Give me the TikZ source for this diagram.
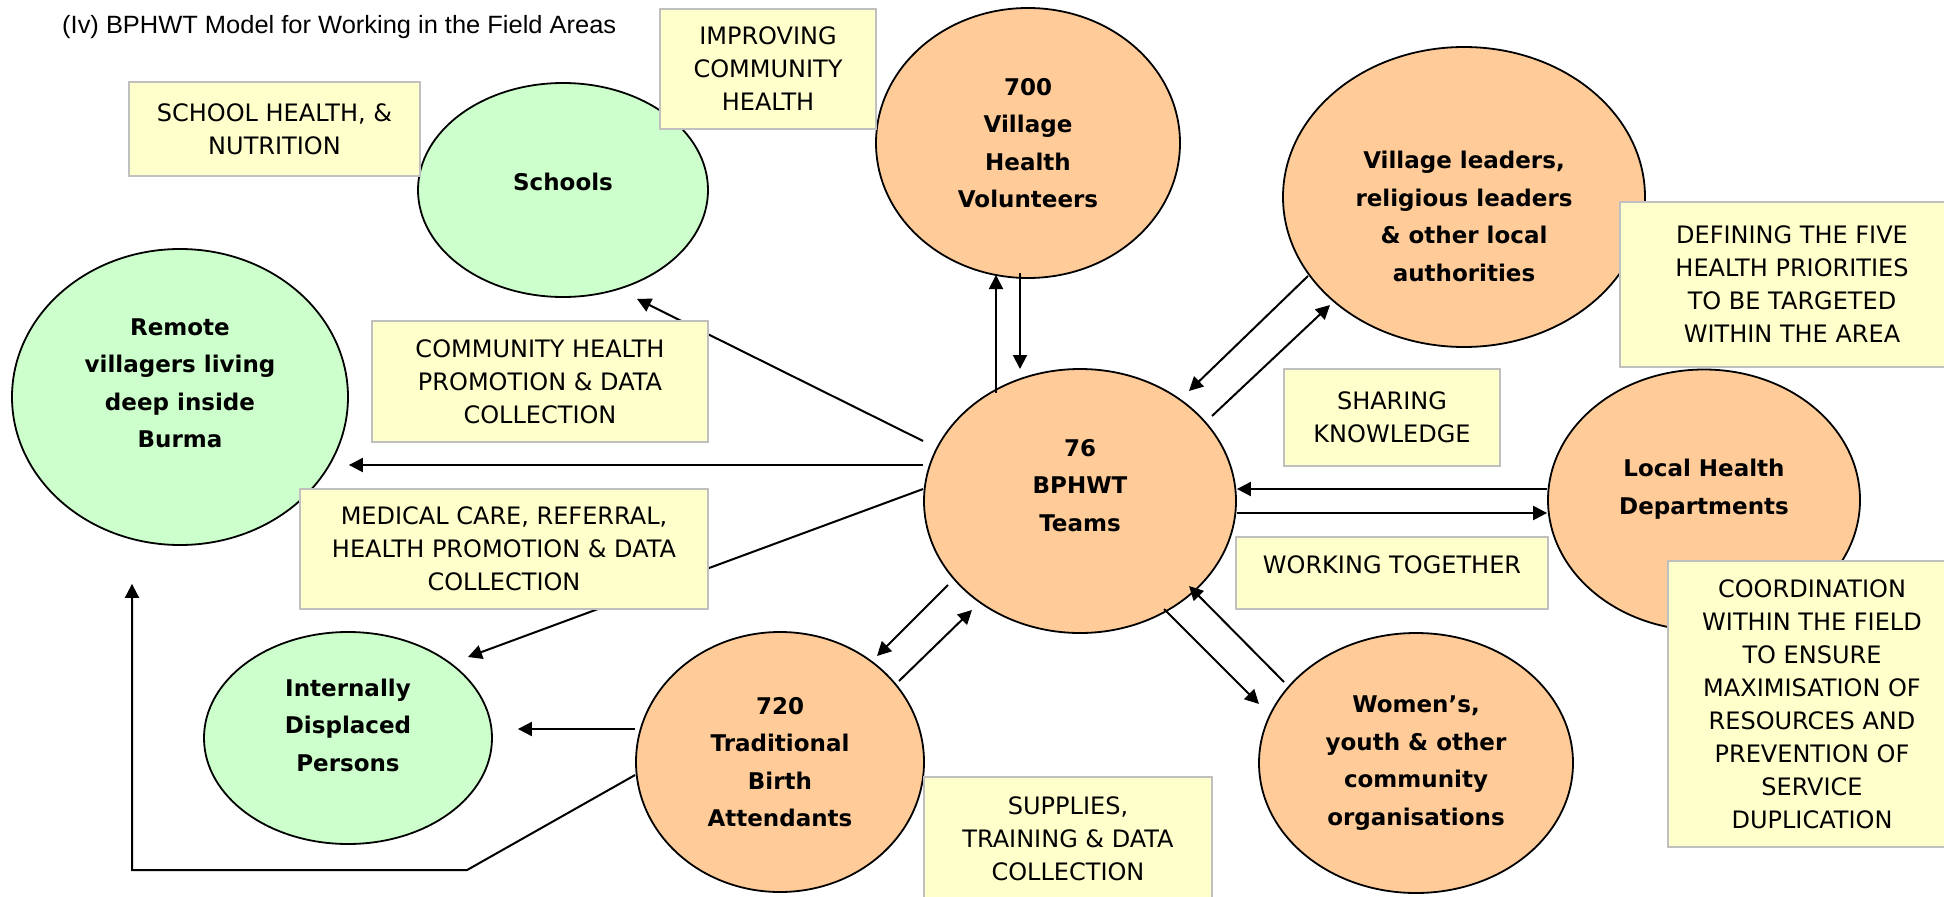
\documentclass[tikz,border=0pt]{standalone}
\usepackage{fontspec}
\usepackage{graphicx}
\setmainfont{DejaVu Sans}
\newfontfamily\titlefont{Liberation Sans}
\usetikzlibrary{shapes.geometric,arrows.meta}
\definecolor{org}{HTML}{FFCC99}
\definecolor{grn}{HTML}{CCFFCC}
\definecolor{boxfill}{HTML}{FFFFCC}
\definecolor{boxgray}{HTML}{C0C0C0}
\newcommand\ldepth[1]{\rule[-#1]{0pt}{#1}}
\newcommand\lheight[1]{\rule{0pt}{#1}}
\tikzset{
  ell/.style={ellipse, draw=black, line width=1.8pt, inner sep=0pt, align=center,
    font=\bfseries\fontsize{23}{37.5}\selectfont},
  tbox/.style={rectangle, draw=boxgray, line width=2pt, fill=boxfill, inner sep=0pt,
    align=center, font=\fontsize{24}{33}\selectfont},
  arr/.style={line width=2pt, -{Triangle[length=14pt,width=14pt]}},
}
\begin{document}
\begin{tikzpicture}[x=1pt,y=-1pt]
\clip (0,0) rectangle (1944,897);
\fill[white] (0,0) rectangle (1944,897);
% ellipses
\node[ell, fill=grn, minimum width=290pt, minimum height=214pt] (schools) at (563,190) {Schools\ldepth{16pt}};
\node[ell, fill=grn, minimum width=336pt, minimum height=296pt] (remote) at (180,397) {Remote\\villagers living\\deep inside\\Burma\ldepth{28pt}};
\node[ell, fill=org, minimum width=304pt, minimum height=270pt] (vhv) at (1028,143) {700\\Village\\Health\\Volunteers};
\node[ell, fill=org, minimum width=362pt, minimum height=300pt] (leaders) at (1464,197) {\lheight{56pt}Village leaders,\\religious leaders\\\& other local\\authorities};
\node[ell, fill=org, minimum width=312pt, minimum height=264pt] (bphwt) at (1080,501) {76\\BPHWT\\Teams\ldepth{32pt}};
\node[ell, fill=org, minimum width=312pt, minimum height=261pt] (lhd) at (1704,500) {Local Health\\Departments\ldepth{26pt}};
\node[ell, fill=grn, minimum width=288pt, minimum height=212pt] (idp) at (348,738) {Internally\\Displaced\\Persons\ldepth{26pt}};
\node[ell, fill=org, minimum width=288pt, minimum height=260pt] (tba) at (780,762) {720\\Traditional\\Birth\\Attendants};
\node[ell, fill=org, minimum width=314pt, minimum height=260pt] (women) at (1416,763) {Women’s,\\youth \& other\\community\\organisations};
% connectors
\draw[arr] ([yshift=60pt]bphwt.west) -- ([xshift=74pt,yshift=-1pt]schools.south);
\draw[arr] ([yshift=36pt]bphwt.west) -- ([yshift=-68pt]remote.east);
\draw[arr] ([yshift=12pt]bphwt.west) -- ([xshift=120pt,yshift=81pt]idp.center);
\draw[arr] ([yshift=33pt]tba.west) -- ([xshift=25pt,yshift=9pt]idp.east);
\draw[arr] ([yshift=-13pt]tba.west) -- ++(-168,95) -| ([xshift=-48pt,yshift=-38pt]remote.south);
\draw[arr] ([xshift=-132pt,yshift=-84pt]bphwt.center) -- ([xshift=97pt,yshift=106pt]tba.center);
\draw[arr] ([xshift=119pt,yshift=81pt]tba.center) -- ([xshift=-108pt,yshift=-109pt]bphwt.center);
\draw[arr] ([xshift=84pt,yshift=-108pt]bphwt.center) -- ([xshift=-157pt,yshift=59pt]women.center);
\draw[arr] ([xshift=-132pt,yshift=81pt]women.center) -- ([xshift=109pt,yshift=-85pt]bphwt.center);
\draw[arr] ([yshift=11pt]lhd.west) -- ([yshift=12pt]bphwt.east);
\draw[arr] ([yshift=-12pt]bphwt.east) -- ([yshift=-13pt]lhd.west);
\draw[arr] ([xshift=-156pt,yshift=-79pt]leaders.center) -- ([xshift=109pt,yshift=110pt]bphwt.center);
\draw[arr] ([xshift=132pt,yshift=85pt]bphwt.center) -- ([xshift=-134pt,yshift=-108pt]leaders.center);
\draw[arr] ([xshift=-84pt,yshift=108pt]bphwt.center) -- ([xshift=-32pt,yshift=-132pt]vhv.center);
\draw[arr] ([xshift=-8pt,yshift=-130pt]vhv.center) -- ([xshift=-60pt,yshift=132pt]bphwt.center);
% text boxes
\node[tbox, minimum width=291pt, minimum height=94pt] (bschool) at (274.5,129) {SCHOOL HEALTH, \&\\NUTRITION};
\node[tbox, minimum width=216pt, minimum height=120pt] (bimprove) at (768,69) {IMPROVING\\COMMUNITY\\HEALTH};
\node[tbox, minimum width=336pt, minimum height=121pt] (bcomm) at (540,381.5) {COMMUNITY HEALTH\\PROMOTION \& DATA\\COLLECTION};
\node[tbox, minimum width=408pt, minimum height=120pt] (bmed) at (504,549) {MEDICAL CARE, REFERRAL,\\HEALTH PROMOTION \& DATA\\COLLECTION};
\node[tbox, minimum width=216pt, minimum height=97pt] (bshare) at (1392,417.5) {SHARING\\KNOWLEDGE};
\node[tbox, minimum width=312pt, minimum height=72pt] (bwork) at (1392,573) {WORKING TOGETHER\ldepth{16pt}};
\node[tbox, minimum width=288pt, minimum height=124pt] (bsupp) at (1068,839) {SUPPLIES,\\TRAINING \& DATA\\COLLECTION};
\node[tbox, minimum width=344pt, minimum height=165pt] (bdef) at (1792,284.5) {DEFINING THE FIVE\\HEALTH PRIORITIES\\TO BE TARGETED\\WITHIN THE AREA};
\node[tbox, minimum width=288pt, minimum height=286pt] (bcoord) at (1812,704) {COORDINATION\\WITHIN THE FIELD\\TO ENSURE\\MAXIMISATION OF\\RESOURCES AND\\PREVENTION OF\\SERVICE\\DUPLICATION};
% title
\node[anchor=base west, inner sep=0pt, font=\titlefont\fontsize{25}{28}\selectfont] (title) at (62,33) {\resizebox{554pt}{\height}{(Iv) BPHWT Model for Working in the Field Areas}};
\end{tikzpicture}
\end{document}
